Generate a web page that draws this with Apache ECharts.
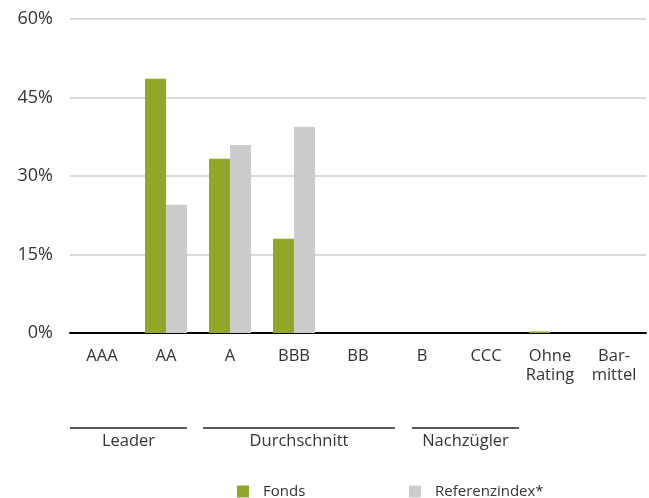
<!DOCTYPE html>
<html><head><meta charset="utf-8">
<script src="https://cdn.jsdelivr.net/npm/echarts@6/dist/echarts.min.js"></script>
<style>html,body{margin:0;padding:0;background:#fff}#c{width:649px;height:498px}</style>
</head><body><div id="c"></div>
<script>
const categories = ['AAA','AA','A','BBB','BB','B','CCC','Ohne\nRating','Bar-\nmittel'];
const fonds = [0, 48.6, 33.3, 18.0, 0, 0, 0, 0.3, 0];
const referenz = [0, 24.5, 35.9, 39.4, 0, 0, 0, 0, 0];
const yTicks = {min: 0, max: 60, interval: 15};
const groups = [
  {name: 'Leader', x1: 70, x2: 187},
  {name: 'Durchschnitt', x1: 203, x2: 395},
  {name: 'Nachzügler', x1: 412, x2: 519}
];
const FONT = 'Open Sans';
const chart = echarts.init(document.getElementById('c'));
const graphic = [];
groups.forEach(g => {
  graphic.push({type:'line', shape:{x1:g.x1, y1:428, x2:g.x2, y2:428}, style:{stroke:'#222', lineWidth:1.3}});
  graphic.push({type:'text', x:(g.x1+g.x2)/2, y:441, style:{text:g.name, fill:'#333', font:'16.5px "Open Sans"', align:'center', verticalAlign:'middle'}});
});
const legendBase = {
  top: 479, itemWidth: 12, itemHeight: 12, icon: 'rect',
  textStyle: {fontSize: 15, color: '#333', fontFamily: FONT, padding: [0,0,0,9]}
};
chart.setOption({
  animation: false,
  textStyle: {fontFamily: FONT},
  grid: {left: 70, right: 3, top: 19, bottom: 165},
  legend: [
    Object.assign({}, legendBase, {left: 232, data: ['Fonds']}),
    Object.assign({}, legendBase, {left: 404, data: ['Referenzindex*']})
  ],
  xAxis: {
    type: 'category', data: categories,
    axisLine: {lineStyle: {color: '#000', width: 2}},
    axisTick: {show: false},
    axisLabel: {fontSize: 16.5, color: '#333', lineHeight: 19, margin: 14, interval: 0}
  },
  yAxis: {
    type: 'value', min: yTicks.min, max: yTicks.max, interval: yTicks.interval,
    axisLine: {show: false}, axisTick: {show: false},
    axisLabel: {formatter: v => v + '%', fontSize: 18, color: '#333', margin: 17},
    splitLine: {lineStyle: {color: '#d9d9d9', width: 2}}
  },
  series: [
    {name: 'Fonds', type: 'bar', data: fonds, barWidth: 21, barGap: '0%', itemStyle: {color: '#90a727'}},
    {name: 'Referenzindex*', type: 'bar', data: referenz, barWidth: 21, barGap: '0%', itemStyle: {color: '#cccccc'}}
  ],
  graphic: graphic
});
</script></body></html>
